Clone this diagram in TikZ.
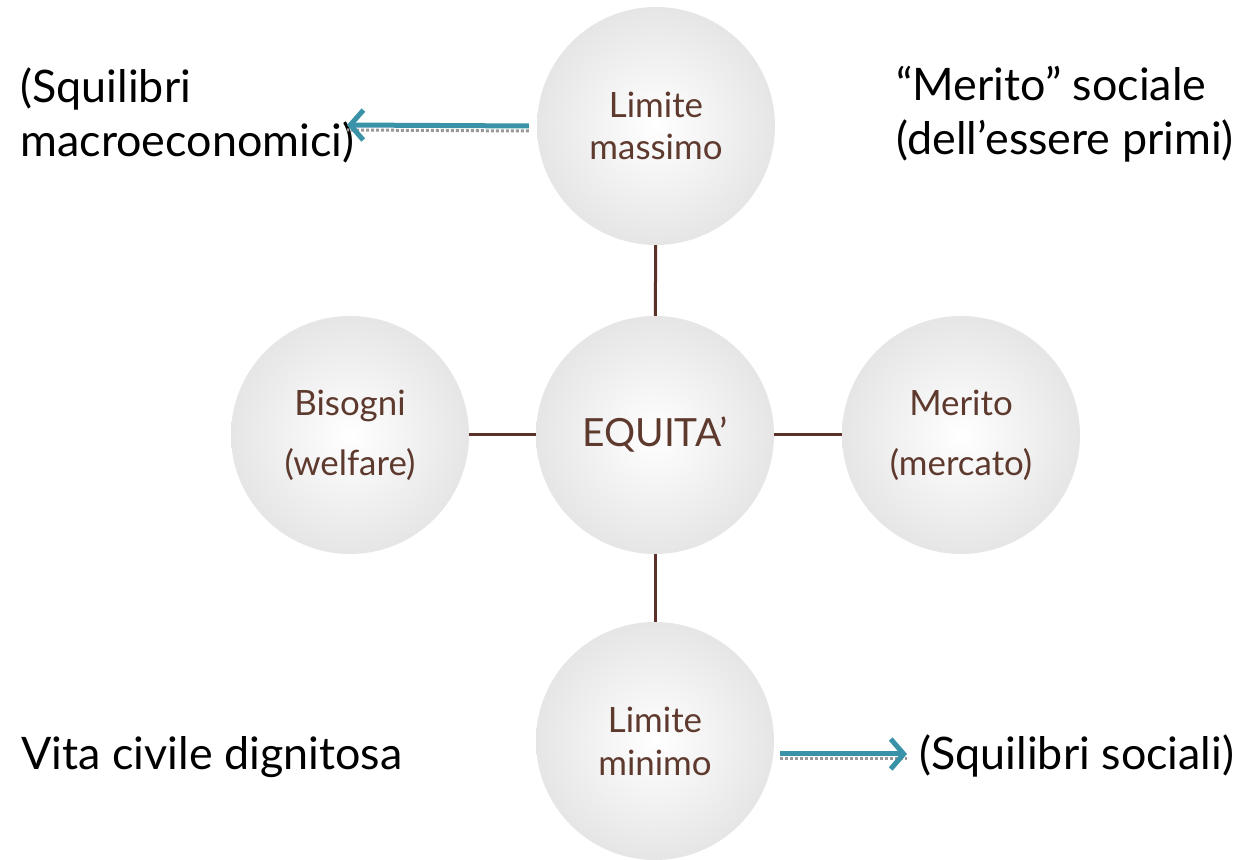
\documentclass[tikz,border=0pt]{standalone}
\usepackage{fontspec}
\setmainfont{Lato}
\usetikzlibrary{arrows.meta}
\definecolor{brownline}{HTML}{5A3028}
\definecolor{browntext}{HTML}{5E3A2E}
\definecolor{tealarrow}{HTML}{3A92A8}
\tikzset{
  bubble/.style={circle, minimum size=238bp, inner sep=0pt, shading=radial,
    inner color=white, outer color=black!10, text=browntext, align=center,
    font=\fontsize{35}{43}\selectfont},
  widebubble/.style={bubble, font=\fontsize{35}{60}\selectfont},
  link/.style={draw=brownline, line width=3bp},
  pointer/.style={draw=tealarrow, line width=5bp, -{Straight Barb[length=13bp,width=30bp,line width=5bp]},
    preaction={draw=black!40, dotted, line width=3bp, -, transform canvas={yshift=-5bp}}},
  note/.style={align=left, anchor=base west, font=\fontsize{45}{55}\selectfont}
}
\begin{document}
\begin{tikzpicture}[x=1bp,y=1bp]
\useasboundingbox (0,0) rectangle (1256,860);
% the five circles
\node (equita) at (655,425) [bubble, font=\fontsize{39}{44}\selectfont] {EQUITA'};
\node (massimo) at (656,734) [bubble] {Limite\\massimo};
\node (minimo) at (655,119) [bubble] {Limite\\minimo};
\node (bisogni) at (350,425) [widebubble] {Bisogni\\(welfare)};
\node (merito) at (961,425) [widebubble] {Merito\\(mercato)};
\draw [link] (massimo) -- (equita);
\draw [link] (minimo) -- (equita);
\draw [link] (bisogni) -- (equita);
\draw [link] (merito) -- (equita);
% side notes
\node (squimacro) at (17,703) [note] {(Squilibri\\macroeconomici)};
\node (meritosoc) at (893,705) [note] {“Merito” sociale\\(dell’essere primi)};
\node (vita) at (18,90) [note] {Vita civile dignitosa};
\node (squisoc) at (916,90) [note] {(Squilibri sociali)};
\coordinate (macroend) at (347,735);
\coordinate (socstart) at (780,106);
\coordinate (socend) at (907,106);
\draw [pointer] (massimo.west) ++(-8,0) -- (macroend);
\draw [pointer] (socstart) -- (socend);
\end{tikzpicture}
\end{document}
